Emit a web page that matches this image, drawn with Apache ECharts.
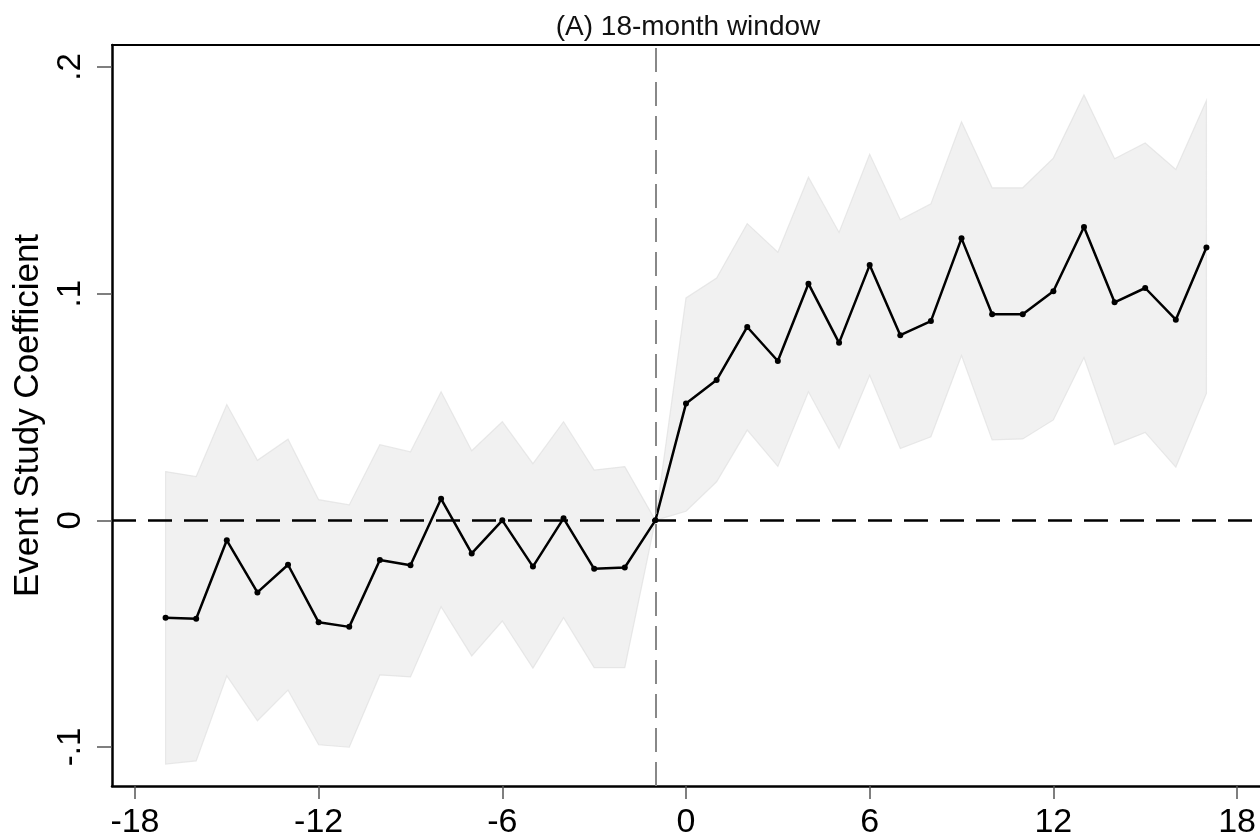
<!DOCTYPE html>
<html>
<head>
<meta charset="utf-8">
<script src="https://cdn.jsdelivr.net/npm/echarts@6/dist/echarts.min.js"></script>
<style>
html,body{margin:0;padding:0;background:#fff;}
#chart{width:1260px;height:840px;}
</style>
</head>
<body>
<div id="chart"></div>
<script>
// Event-time (months relative to event)
var periods = [-17,-16,-15,-14,-13,-12,-11,-10,-9,-8,-7,-6,-5,-4,-3,-2,-1,0,1,2,3,4,5,6,7,8,9,10,11,12,13,14,15,16,17];
// Point estimates
var coef = [-0.0430,-0.0434,-0.0088,-0.0318,-0.0196,-0.0450,-0.0470,-0.0175,-0.0198,0.0095,-0.0146,0.0000,-0.0204,0.0009,-0.0214,-0.0208,0.0000,
            0.0515,0.0619,0.0853,0.0703,0.1044,0.0783,0.1126,0.0817,0.0879,0.1244,0.0909,0.0909,0.1011,0.1294,0.0962,0.1025,0.0885,0.1204];
// Upper 95% CI
var upper = [0.0215,0.0193,0.0511,0.0265,0.0358,0.0091,0.0068,0.0334,0.0302,0.0567,0.0307,0.0435,0.0250,0.0435,0.0222,0.0237,0.0000,
             0.0981,0.1069,0.1309,0.1183,0.1514,0.1270,0.1615,0.1326,0.1396,0.1758,0.1467,0.1467,0.1598,0.1877,0.1595,0.1665,0.1548,0.1852];
// Lower 95% CI
var lower = [-0.1075,-0.1061,-0.0686,-0.0884,-0.0749,-0.0990,-0.1001,-0.0682,-0.0691,-0.0381,-0.0598,-0.0444,-0.0652,-0.0429,-0.0650,-0.0650,0.0000,
             0.0040,0.0170,0.0398,0.0238,0.0567,0.0318,0.0640,0.0317,0.0369,0.0727,0.0355,0.0359,0.0443,0.0718,0.0334,0.0388,0.0235,0.0560];
var xTicks = [-18,-12,-6,0,6,12,18];
var yTicks = [-0.1,0,0.1,0.2];
var yTickLabels = ['-.1','0','.1','.2'];
var titleText = '(A) 18-month window';
var yTitle = 'Event Study Coefficient';

var FONT = '"Liberation Sans", Arial, Helvetica, sans-serif';
var coefData = periods.map(function(p,i){return [p, coef[i]];});
var bandData = periods.map(function(p,i){return [p, lower[i], upper[i]];});

function renderBand(params, api){
  if (params.dataIndex !== 0) return null;
  var pts = [];
  for (var i=0;i<periods.length;i++) pts.push(api.coord([periods[i], upper[i]]));
  for (var j=periods.length-1;j>=0;j--) pts.push(api.coord([periods[j], lower[j]]));
  return {type:'polygon', shape:{points:pts},
          style:{fill:'rgba(229,229,229,0.52)', stroke:'rgba(220,220,220,0.6)', lineWidth:1.2}};
}

var chart = echarts.init(document.getElementById('chart'), null, {renderer:'canvas'});
chart.setOption({
  animation:false,
  backgroundColor:'#fff',
  title:{text:titleText,left:683,top:8,textAlign:'center',
         textStyle:{fontFamily:FONT,fontSize:28,fontWeight:'normal',color:'#111'}},
  grid:{left:112,top:45,right:-4,bottom:53,containLabel:false},
  xAxis:[{
    type:'value',min:-18.75,max:18.75,position:'bottom',
    axisLine:{show:true,onZero:false,lineStyle:{color:'#000',width:2.5}},
    axisTick:{show:true,customValues:xTicks,length:13,lineStyle:{color:'#555',width:1.5}},
    axisLabel:{customValues:xTicks,margin:20,fontFamily:FONT,fontSize:34,color:'#000'},
    splitLine:{show:false}
  },{
    type:'value',min:-18.75,max:18.75,position:'top',
    axisLine:{show:true,onZero:false,lineStyle:{color:'#000',width:2}},
    axisTick:{show:false},axisLabel:{show:false},splitLine:{show:false}
  }],
  yAxis:{
    type:'value',min:-0.1172,max:0.2097,
    axisLine:{show:true,onZero:false,lineStyle:{color:'#000',width:2.5}},
    axisTick:{show:true,customValues:yTicks,length:15,lineStyle:{color:'#555',width:1.5}},
    axisLabel:{customValues:yTicks,rotate:90,margin:25,fontFamily:FONT,fontSize:33,color:'#000',
      formatter:function(v){var i=yTicks.findIndex(function(t){return Math.abs(t-v)<1e-9;});return i>=0?yTickLabels[i]:'';}},
    splitLine:{show:false},
    name:yTitle,nameLocation:'middle',nameRotate:90,nameGap:64,
    nameTextStyle:{fontFamily:FONT,fontSize:35,color:'#000'}
  },
  series:[
    {type:'line',name:'zero',data:[],z:1,silent:true,
     markLine:{silent:true,symbol:'none',label:{show:false},
       lineStyle:{color:'#000',width:2.5,type:[24,12]},
       data:[{yAxis:0}]}},
    {type:'custom',name:'ci',data:bandData,z:2,silent:true,clip:true,
     encode:{x:0,y:[1,2]},renderItem:renderBand},
    {type:'line',name:'event',data:[],z:3,silent:true,
     markLine:{silent:true,symbol:'none',label:{show:false},
       lineStyle:{color:'#888',width:2,type:[24,10]},
       data:[{xAxis:-1}]}},
    {type:'line',name:'coef',data:coefData,z:4,symbol:'circle',symbolSize:6,
     itemStyle:{color:'#000'},lineStyle:{color:'#000',width:2.5}}
  ]
});
</script>
</body>
</html>
